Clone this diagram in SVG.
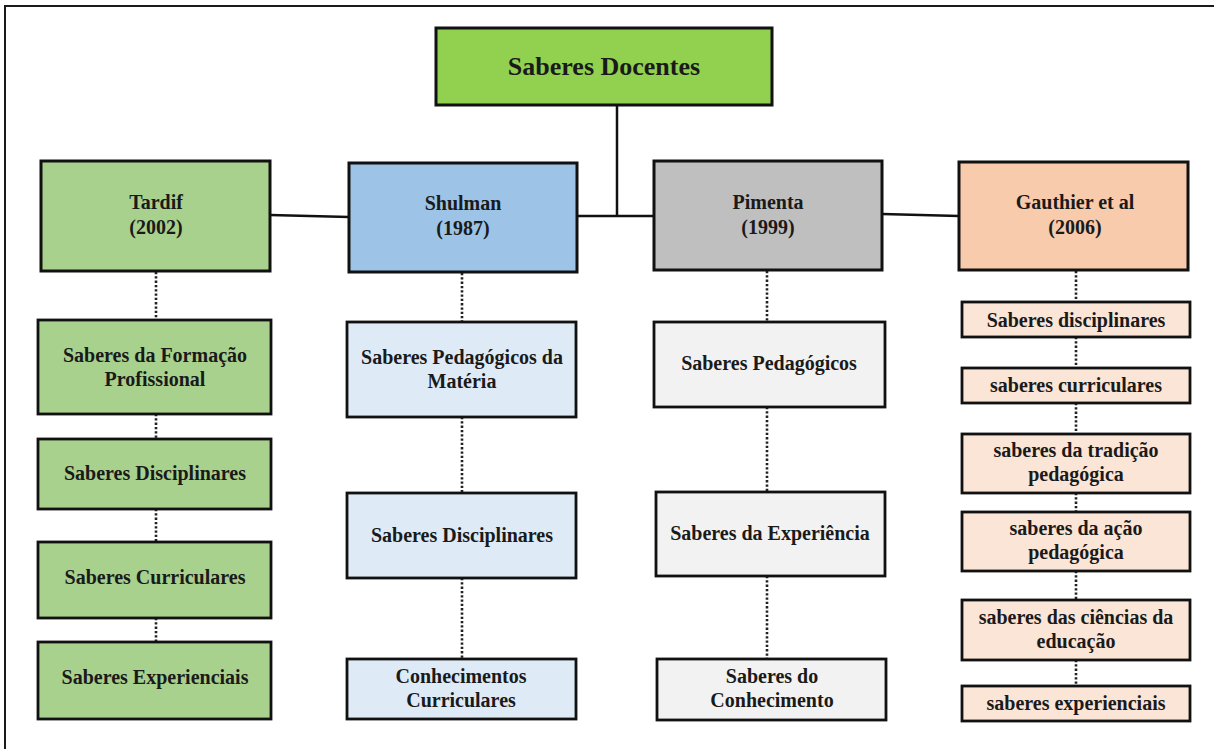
<svg xmlns="http://www.w3.org/2000/svg" width="1214" height="749" viewBox="0 0 1214 749">
<style>
.frame{fill:#ffffff;stroke:#1a1a1a;stroke-width:2}
.box{stroke:#111111;stroke-width:3}
.sub{stroke:#111111;stroke-width:2.8}
text{font-family:'Liberation Serif','Times New Roman',Times,'DejaVu Serif',serif;font-weight:700;font-size:20px;fill:#1a1a1a;text-anchor:middle}
.big{font-size:26px}
.solid{stroke:#111111;stroke-width:2.5;fill:none}
.dot{stroke:#222222;stroke-width:2.6;stroke-dasharray:2.3 2;fill:none}
.g1{fill:#A9D18E}.b1{fill:#9DC3E6}.gr1{fill:#BFBFBF}.o1{fill:#F8CBAD}
.g2{fill:#A9D18E}.b2{fill:#DEEBF7}.gr2{fill:#F2F2F2}.o2{fill:#FBE5D6}
</style>
<rect class="frame" x="5" y="6" width="1230" height="760"/>
<g id="connectors">
<polyline class="solid" points="617,105 617,216"/>
<line class="solid" x1="577" y1="216" x2="654" y2="216"/>
<line class="solid" x1="270" y1="215" x2="349" y2="217"/>
<line class="solid" x1="882" y1="214" x2="959" y2="216"/>
<line class="dot" x1="156" y1="272" x2="156" y2="320"/>
<line class="dot" x1="156" y1="414" x2="156" y2="439"/>
<line class="dot" x1="156" y1="509" x2="156" y2="542"/>
<line class="dot" x1="156" y1="618" x2="156" y2="642"/>
<line class="dot" x1="462" y1="273" x2="462" y2="322"/>
<line class="dot" x1="462" y1="417" x2="462" y2="493"/>
<line class="dot" x1="462" y1="578" x2="462" y2="659"/>
<line class="dot" x1="767" y1="271" x2="767" y2="322"/>
<line class="dot" x1="767" y1="407" x2="767" y2="492"/>
<line class="dot" x1="767" y1="576" x2="767" y2="659"/>
<line class="dot" x1="1076" y1="271" x2="1076" y2="302"/>
<line class="dot" x1="1076" y1="337" x2="1076" y2="368"/>
<line class="dot" x1="1076" y1="403" x2="1076" y2="434"/>
<line class="dot" x1="1076" y1="493" x2="1076" y2="512"/>
<line class="dot" x1="1076" y1="571" x2="1076" y2="600"/>
<line class="dot" x1="1076" y1="660" x2="1076" y2="686"/>
</g>
<g id="saberes-docentes">
<rect class="box" x="436" y="28" width="336" height="77" fill="#92D050"/>
<text class="big" x="604" y="75">Saberes Docentes</text>
</g>
<g id="tardif">
<rect class="box g1" x="41" y="161" width="229" height="110"/>
<text x="156" y="209">Tardif</text>
<text x="156" y="234">(2002)</text>
</g>
<g id="shulman">
<rect class="box b1" x="349" y="163" width="228" height="109"/>
<text x="463" y="210">Shulman</text>
<text x="463" y="235">(1987)</text>
</g>
<g id="pimenta">
<rect class="box gr1" x="654" y="161" width="228" height="109"/>
<text x="768" y="209">Pimenta</text>
<text x="768" y="234">(1999)</text>
</g>
<g id="gauthier">
<rect class="box o1" x="959" y="162" width="229" height="108"/>
<text x="1075" y="209">Gauthier et al</text>
<text x="1075" y="234">(2006)</text>
</g>
<g id="tardif-1">
<rect class="sub g2" x="38" y="320" width="233" height="94"/>
<text x="155" y="362">Saberes da Formação</text>
<text x="155" y="386">Profissional</text>
</g>
<g id="tardif-2">
<rect class="sub g2" x="38" y="439" width="233" height="70"/>
<text x="155" y="480">Saberes Disciplinares</text>
</g>
<g id="tardif-3">
<rect class="sub g2" x="38" y="542" width="233" height="76"/>
<text x="155" y="584">Saberes Curriculares</text>
</g>
<g id="tardif-4">
<rect class="sub g2" x="38" y="642" width="233" height="77"/>
<text x="155" y="684">Saberes Experienciais</text>
</g>
<g id="shulman-1">
<rect class="sub b2" x="347" y="322" width="229" height="95"/>
<text x="462" y="364">Saberes Pedagógicos da</text>
<text x="462" y="388">Matéria</text>
</g>
<g id="shulman-2">
<rect class="sub b2" x="347" y="493" width="229" height="85"/>
<text x="462" y="542">Saberes Disciplinares</text>
</g>
<g id="shulman-3">
<rect class="sub b2" x="347" y="659" width="229" height="60"/>
<text x="461" y="683">Conhecimentos</text>
<text x="461" y="707">Curriculares</text>
</g>
<g id="pimenta-1">
<rect class="sub gr2" x="654" y="322" width="231" height="85"/>
<text x="769" y="370">Saberes Pedagógicos</text>
</g>
<g id="pimenta-2">
<rect class="sub gr2" x="656" y="492" width="229" height="84"/>
<text x="770" y="540">Saberes da Experiência</text>
</g>
<g id="pimenta-3">
<rect class="sub gr2" x="657" y="659" width="229" height="61"/>
<text x="772" y="683">Saberes do</text>
<text x="772" y="707">Conhecimento</text>
</g>
<g id="gauthier-1">
<rect class="sub o2" x="962" y="302" width="228" height="35"/>
<text x="1076" y="327">Saberes disciplinares</text>
</g>
<g id="gauthier-2">
<rect class="sub o2" x="962" y="368" width="228" height="35"/>
<text x="1076" y="392">saberes curriculares</text>
</g>
<g id="gauthier-3">
<rect class="sub o2" x="962" y="434" width="228" height="59"/>
<text x="1076" y="457">saberes da tradição</text>
<text x="1076" y="481">pedagógica</text>
</g>
<g id="gauthier-4">
<rect class="sub o2" x="962" y="512" width="228" height="59"/>
<text x="1076" y="535">saberes da ação</text>
<text x="1076" y="559">pedagógica</text>
</g>
<g id="gauthier-5">
<rect class="sub o2" x="962" y="600" width="228" height="60"/>
<text x="1076" y="624">saberes das ciências da</text>
<text x="1076" y="648">educação</text>
</g>
<g id="gauthier-6">
<rect class="sub o2" x="962" y="686" width="228" height="35"/>
<text x="1076" y="710">saberes experienciais</text>
</g>
</svg>
